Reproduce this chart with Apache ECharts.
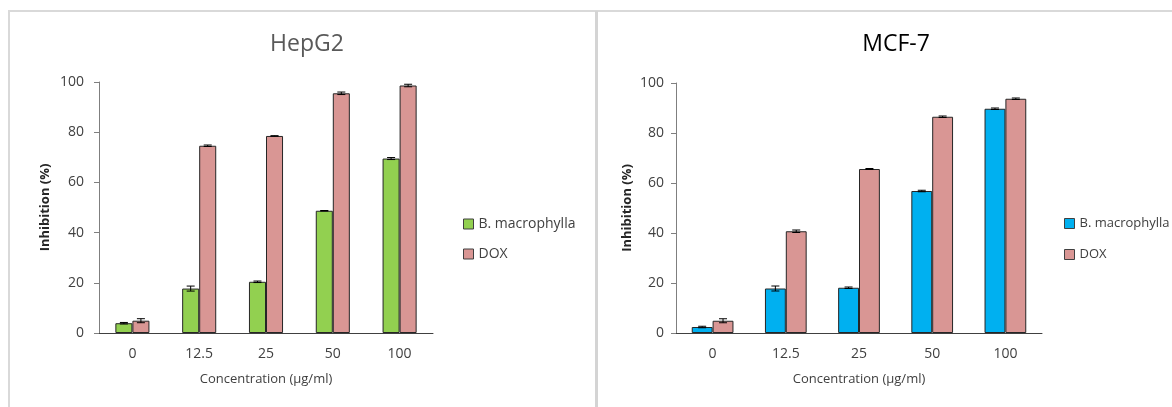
<!DOCTYPE html>
<html>
<head>
<meta charset="utf-8">
<script src="https://cdn.jsdelivr.net/npm/echarts@6/dist/echarts.min.js"></script>
<style>
html,body{margin:0;padding:0;background:#fff;}
#c{width:1172px;height:407px;}
</style>
</head>
<body>
<div id="c"></div>
<script>
const categories = ['0', '12.5', '25', '50', '100'];
const seriesNames = ['B. macrophylla', 'DOX'];
const yTicks = [0, 20, 40, 60, 80, 100];

const hepBM = [3.9, 17.7, 20.4, 48.7, 69.5];
const hepBMErr = [0.3, 1.0, 0.3, 0.1, 0.4];
const hepDOX = [4.9, 74.6, 78.5, 95.5, 98.6];
const hepDOXErr = [0.8, 0.3, 0.1, 0.5, 0.5];

const mcfBM = [2.4, 17.8, 18.1, 56.8, 89.7];
const mcfBMErr = [0.3, 1.0, 0.3, 0.3, 0.3];
const mcfDOX = [4.9, 40.7, 65.6, 86.5, 93.7];
const mcfDOXErr = [0.8, 0.5, 0.2, 0.3, 0.3];

const FONT = '"Open Sans"';
const GREEN = '#92D050', BLUE = '#00B0F0', PINK = '#D99694';

const grids = [
  {left: 99, top: 82, width: 334, height: 251},
  {left: 676, top: 83, width: 366, height: 250}
];
const barFrac = [0.255, 0.285];

function xAxis(i) {
  return {
    type: 'category', gridIndex: i, data: categories,
    axisLine: {lineStyle: {color: '#404040', width: 1}},
    axisTick: {show: false},
    axisLabel: {color: '#404040', fontSize: 14, fontFamily: FONT, margin: 14},
    name: 'Concentration (µg/ml)', nameLocation: 'middle', nameGap: 40,
    nameTextStyle: {color: '#404040', fontSize: 13, fontFamily: FONT}
  };
}
function yAxis(i, gap, lm) {
  return {
    type: 'value', gridIndex: i, min: 0, max: 100, interval: 20,
    axisLine: {show: true, lineStyle: {color: '#7f7f7f'}},
    axisTick: {show: true, length: 5, inside: false, lineStyle: {color: '#7f7f7f'}},
    splitLine: {show: false},
    axisLabel: {color: '#404040', fontSize: 14, fontFamily: FONT, margin: lm,
      formatter: v => yTicks.includes(v) ? String(v) : ''},
    name: 'Inhibition (%)', nameLocation: 'middle', nameGap: gap,
    nameTextStyle: {color: '#262626', fontSize: 13, fontFamily: FONT, fontWeight: 'bold'}
  };
}
function bar(name, data, color, i) {
  return {
    type: 'bar', name: name, xAxisIndex: i, yAxisIndex: i, data: data,
    barWidth: (barFrac[i] * 100) + '%', barGap: '0%',
    itemStyle: {color: color, borderColor: '#262626', borderWidth: 1},
    emphasis: {disabled: true}, z: 2
  };
}
function err(values, errs, i, side) {
  return {
    type: 'custom', xAxisIndex: i, yAxisIndex: i, z: 5, silent: true,
    data: values.map((v, k) => [k, v, errs[k]]),
    renderItem: function (params, api) {
      const c = api.value(0), v = api.value(1), e = api.value(2);
      const band = api.size([1, 0])[0];
      const off = side * band * barFrac[i] / 2;
      const hi = api.coord([c, v + e]);
      const lo = api.coord([c, v - e]);
      const x = hi[0] + off;
      const cap = 4;
      const st = {stroke: '#000', lineWidth: 1};
      return {type: 'group', children: [
        {type: 'line', shape: {x1: x, y1: hi[1], x2: x, y2: lo[1]}, style: st},
        {type: 'line', shape: {x1: x - cap, y1: hi[1], x2: x + cap, y2: hi[1]}, style: st},
        {type: 'line', shape: {x1: x - cap, y1: lo[1], x2: x + cap, y2: lo[1]}, style: st}
      ]};
    }
  };
}
function legend(left, c1, fs, gap) {
  return {
    orient: 'vertical', left: left, top: 217, padding: 0, itemWidth: 10, itemHeight: 10,
    itemGap: gap, selectedMode: false,
    textStyle: {color: '#404040', fontSize: fs, fontFamily: FONT},
    data: [
      {name: seriesNames[0], icon: 'rect', itemStyle: {color: c1, borderColor: '#404040', borderWidth: 1}},
      {name: seriesNames[1], icon: 'rect', itemStyle: {color: PINK, borderColor: '#404040', borderWidth: 1}}
    ]
  };
}

const chart = echarts.init(document.getElementById('c'));
chart.setOption({
  backgroundColor: '#fff',
  animation: false,
  title: [
    {text: 'HepG2', left: 302, top: 28, textAlign: 'center',
      textStyle: {color: '#595959', fontSize: 23, fontWeight: 'normal', fontFamily: FONT}},
    {text: 'MCF-7', left: 891, top: 28, textAlign: 'center',
      textStyle: {color: '#000', fontSize: 23, fontWeight: 'normal', fontFamily: FONT}}
  ],
  legend: [legend(463, GREEN, 14, 16), legend(1064, BLUE, 13, 18)],
  grid: grids,
  xAxis: [xAxis(0), xAxis(1)],
  yAxis: [yAxis(0, 47, 15), yAxis(1, 42, 12)],
  series: [
    bar(seriesNames[0], hepBM, GREEN, 0),
    bar(seriesNames[1], hepDOX, PINK, 0),
    err(hepBM, hepBMErr, 0, -1),
    err(hepDOX, hepDOXErr, 0, 1),
    bar(seriesNames[0], mcfBM, BLUE, 1),
    bar(seriesNames[1], mcfDOX, PINK, 1),
    err(mcfBM, mcfBMErr, 1, -1),
    err(mcfDOX, mcfDOXErr, 1, 1)
  ],
  graphic: [
    {type: 'line', shape: {x1: 8, y1: 11, x2: 1172, y2: 11}, style: {stroke: '#d9d9d9', lineWidth: 2}, silent: true},
    {type: 'line', shape: {x1: 9, y1: 11, x2: 9, y2: 407}, style: {stroke: '#d9d9d9', lineWidth: 2}, silent: true},
    {type: 'line', shape: {x1: 596.5, y1: 11, x2: 596.5, y2: 407}, style: {stroke: '#d4d4d4', lineWidth: 3}, silent: true}
  ]
});
</script>
</body>
</html>
